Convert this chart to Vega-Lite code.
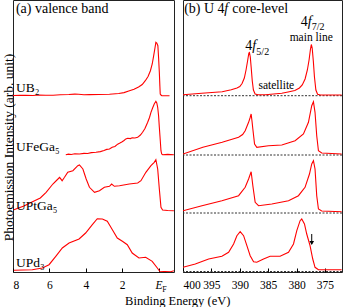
{
 "$schema": "https://vega.github.io/schema/vega-lite/v6.json",
 "padding": {"left": 0, "top": -1, "right": 1, "bottom": 0},
 "background": "white",
 "spacing": 9,
 "bounds": "flush",
 "title": {"text": "Binding Energy (eV)", "orient": "bottom", "anchor": "middle", "font": "'Liberation Serif', 'Times New Roman', serif", "fontSize": 12.5, "fontWeight": "normal", "color": "#000", "offset": 0, "dx": 6},
 "datasets": {
  "valence": [
   {"s":"UB2","E":8.0,"I":176.5},{"s":"UB2","E":7.6,"I":176.6},{"s":"UB2","E":7.3,"I":176.7},{"s":"UB2","E":6.9,"I":176.5},{"s":"UB2","E":6.58,"I":177},{"s":"UB2","E":6.2,"I":176.8},{"s":"UB2","E":5.8,"I":176.8},{"s":"UB2","E":5.4,"I":177.2},{"s":"UB2","E":4.93,"I":177.5},{"s":"UB2","E":4.6,"I":177.9},{"s":"UB2","E":4.4,"I":177.8},{"s":"UB2","E":4.1,"I":177.3},{"s":"UB2","E":3.8,"I":177.4},{"s":"UB2","E":3.29,"I":177.5},{"s":"UB2","E":2.7,"I":177.8},{"s":"UB2","E":2.19,"I":178.5},{"s":"UB2","E":1.9,"I":179.4},{"s":"UB2","E":1.64,"I":181},{"s":"UB2","E":1.35,"I":182.8},{"s":"UB2","E":1.1,"I":185},{"s":"UB2","E":0.9,"I":187.5},{"s":"UB2","E":0.73,"I":191.3},{"s":"UB2","E":0.58,"I":195.5},{"s":"UB2","E":0.45,"I":201.3},{"s":"UB2","E":0.35,"I":208},{"s":"UB2","E":0.27,"I":216.3},{"s":"UB2","E":0.2,"I":224},{"s":"UB2","E":0.15,"I":229.7},{"s":"UB2","E":0.1,"I":229},{"s":"UB2","E":0.04,"I":226.3},{"s":"UB2","E":0.0,"I":214},{"s":"UB2","E":-0.04,"I":199.7},{"s":"UB2","E":-0.07,"I":186},{"s":"UB2","E":-0.09,"I":178},{"s":"UB2","E":-0.13,"I":177},{"s":"UB2","E":-0.18,"I":176.3},{"s":"UB2","E":-0.6,"I":176.3},
   {"s":"UFeGa5","E":5.1,"I":117.3},{"s":"UFeGa5","E":4.95,"I":117.9},{"s":"UFeGa5","E":4.8,"I":117.5},{"s":"UFeGa5","E":4.6,"I":118.2},{"s":"UFeGa5","E":4.35,"I":118},{"s":"UFeGa5","E":4.1,"I":118.6},{"s":"UFeGa5","E":3.9,"I":118.5},{"s":"UFeGa5","E":3.7,"I":119.4},{"s":"UFeGa5","E":3.44,"I":119.7},{"s":"UFeGa5","E":3.2,"I":120.4},{"s":"UFeGa5","E":3.0,"I":121.5},{"s":"UFeGa5","E":2.85,"I":122.6},{"s":"UFeGa5","E":2.7,"I":123},{"s":"UFeGa5","E":2.55,"I":124.8},{"s":"UFeGa5","E":2.4,"I":125.5},{"s":"UFeGa5","E":2.25,"I":127.8},{"s":"UFeGa5","E":2.15,"I":128.7},{"s":"UFeGa5","E":2.0,"I":130.2},{"s":"UFeGa5","E":1.9,"I":131.5},{"s":"UFeGa5","E":1.8,"I":133.1},{"s":"UFeGa5","E":1.7,"I":133.7},{"s":"UFeGa5","E":1.55,"I":133.4},{"s":"UFeGa5","E":1.45,"I":134.2},{"s":"UFeGa5","E":1.3,"I":134},{"s":"UFeGa5","E":1.15,"I":134.7},{"s":"UFeGa5","E":1.0,"I":137},{"s":"UFeGa5","E":0.88,"I":139.7},{"s":"UFeGa5","E":0.75,"I":143.5},{"s":"UFeGa5","E":0.6,"I":149.7},{"s":"UFeGa5","E":0.5,"I":154.5},{"s":"UFeGa5","E":0.42,"I":159.7},{"s":"UFeGa5","E":0.33,"I":164},{"s":"UFeGa5","E":0.24,"I":168},{"s":"UFeGa5","E":0.15,"I":170.7},{"s":"UFeGa5","E":0.1,"I":169},{"s":"UFeGa5","E":0.05,"I":164.7},{"s":"UFeGa5","E":0.0,"I":156},{"s":"UFeGa5","E":-0.04,"I":144.7},{"s":"UFeGa5","E":-0.09,"I":132},{"s":"UFeGa5","E":-0.13,"I":121.3},{"s":"UFeGa5","E":-0.17,"I":118},{"s":"UFeGa5","E":-0.22,"I":117.3},{"s":"UFeGa5","E":-0.5,"I":117.6},{"s":"UFeGa5","E":-0.84,"I":117.3},
   {"s":"UPtGa5","E":7.95,"I":62.3},{"s":"UPtGa5","E":7.4,"I":66},{"s":"UPtGa5","E":6.9,"I":70.5},{"s":"UPtGa5","E":6.5,"I":74},{"s":"UPtGa5","E":6.18,"I":79.7},{"s":"UPtGa5","E":5.81,"I":88},{"s":"UPtGa5","E":5.53,"I":93},{"s":"UPtGa5","E":5.44,"I":94.7},{"s":"UPtGa5","E":5.3,"I":91.3},{"s":"UPtGa5","E":5.17,"I":94.7},{"s":"UPtGa5","E":4.99,"I":99.7},{"s":"UPtGa5","E":4.71,"I":101.3},{"s":"UPtGa5","E":4.44,"I":106.3},{"s":"UPtGa5","E":4.35,"I":107},{"s":"UPtGa5","E":4.16,"I":103},{"s":"UPtGa5","E":3.98,"I":93},{"s":"UPtGa5","E":3.8,"I":84.7},{"s":"UPtGa5","E":3.52,"I":79.7},{"s":"UPtGa5","E":3.25,"I":81.3},{"s":"UPtGa5","E":2.98,"I":84.7},{"s":"UPtGa5","E":2.7,"I":85.7},{"s":"UPtGa5","E":2.58,"I":88},{"s":"UPtGa5","E":2.43,"I":85.7},{"s":"UPtGa5","E":2.15,"I":86.3},{"s":"UPtGa5","E":1.61,"I":88},{"s":"UPtGa5","E":1.15,"I":89},{"s":"UPtGa5","E":0.97,"I":91.3},{"s":"UPtGa5","E":0.7,"I":99.7},{"s":"UPtGa5","E":0.42,"I":106.3},{"s":"UPtGa5","E":0.24,"I":109.7},{"s":"UPtGa5","E":0.15,"I":112.3},{"s":"UPtGa5","E":0.05,"I":103},{"s":"UPtGa5","E":-0.04,"I":83},{"s":"UPtGa5","E":-0.13,"I":64.7},{"s":"UPtGa5","E":-0.22,"I":62},{"s":"UPtGa5","E":-0.5,"I":61.5},{"s":"UPtGa5","E":-0.84,"I":61.3},
   {"s":"UPd3","E":7.95,"I":1.7},{"s":"UPd3","E":6.94,"I":2.3},{"s":"UPd3","E":6.39,"I":4},{"s":"UPd3","E":6.02,"I":7.3},{"s":"UPd3","E":5.65,"I":15.7},{"s":"UPd3","E":5.29,"I":24},{"s":"UPd3","E":4.92,"I":29},{"s":"UPd3","E":4.37,"I":33},{"s":"UPd3","E":4.01,"I":39},{"s":"UPd3","E":3.64,"I":47.3},{"s":"UPd3","E":3.37,"I":53.3},{"s":"UPd3","E":3.09,"I":53},{"s":"UPd3","E":2.82,"I":50.7},{"s":"UPd3","E":2.54,"I":42.3},{"s":"UPd3","E":2.27,"I":34},{"s":"UPd3","E":1.99,"I":30.7},{"s":"UPd3","E":1.72,"I":27.3},{"s":"UPd3","E":1.45,"I":19},{"s":"UPd3","E":1.08,"I":14},{"s":"UPd3","E":0.71,"I":14.7},{"s":"UPd3","E":0.35,"I":10.7},{"s":"UPd3","E":0.07,"I":4},{"s":"UPd3","E":-0.06,"I":0.7},{"s":"UPd3","E":-0.66,"I":0.3},{"s":"UPd3","E":-0.84,"I":1.3}
  ],
  "core": [
   {"s":"UB2","E":400,"I":177.3},{"s":"UB2","E":396.7,"I":178.7},{"s":"UB2","E":393.1,"I":180.3},{"s":"UB2","E":391.5,"I":182.2},{"s":"UB2","E":390.5,"I":184},{"s":"UB2","E":390.0,"I":185.5},{"s":"UB2","E":389.6,"I":188.5},{"s":"UB2","E":389.2,"I":194},{"s":"UB2","E":388.9,"I":202},{"s":"UB2","E":388.6,"I":212},{"s":"UB2","E":388.4,"I":219},{"s":"UB2","E":388.3,"I":219.5},{"s":"UB2","E":388.15,"I":215},{"s":"UB2","E":388.0,"I":205},{"s":"UB2","E":387.8,"I":191},{"s":"UB2","E":387.6,"I":182},{"s":"UB2","E":387.3,"I":178},{"s":"UB2","E":386.8,"I":177.2},{"s":"UB2","E":385.5,"I":177.3},{"s":"UB2","E":382.6,"I":178.7},{"s":"UB2","E":381.5,"I":180},{"s":"UB2","E":380.3,"I":181.5},{"s":"UB2","E":379.5,"I":184},{"s":"UB2","E":379.0,"I":187},{"s":"UB2","E":378.5,"I":193},{"s":"UB2","E":378.1,"I":202},{"s":"UB2","E":377.8,"I":212},{"s":"UB2","E":377.55,"I":223},{"s":"UB2","E":377.4,"I":227.5},{"s":"UB2","E":377.25,"I":224},{"s":"UB2","E":377.05,"I":211},{"s":"UB2","E":376.85,"I":195},{"s":"UB2","E":376.6,"I":182},{"s":"UB2","E":376.3,"I":177.7},{"s":"UB2","E":375.8,"I":177},{"s":"UB2","E":372.06,"I":177},
   {"s":"UFeGa5","E":400,"I":118},{"s":"UFeGa5","E":396.5,"I":124.7},{"s":"UFeGa5","E":393.1,"I":129.7},{"s":"UFeGa5","E":390.21,"I":134.7},{"s":"UFeGa5","E":389.5,"I":137.5},{"s":"UFeGa5","E":389.05,"I":141.3},{"s":"UFeGa5","E":388.45,"I":149.7},{"s":"UFeGa5","E":388.2,"I":154},{"s":"UFeGa5","E":388.0,"I":158},{"s":"UFeGa5","E":387.85,"I":151},{"s":"UFeGa5","E":387.7,"I":143},{"s":"UFeGa5","E":387.4,"I":128},{"s":"UFeGa5","E":387.0,"I":124.7},{"s":"UFeGa5","E":384.94,"I":126.3},{"s":"UFeGa5","E":382.6,"I":127},{"s":"UFeGa5","E":380.26,"I":131.3},{"s":"UFeGa5","E":378.79,"I":138},{"s":"UFeGa5","E":377.91,"I":149.7},{"s":"UFeGa5","E":377.33,"I":166.3},{"s":"UFeGa5","E":377.03,"I":170.3},{"s":"UFeGa5","E":376.75,"I":159.7},{"s":"UFeGa5","E":376.45,"I":136.3},{"s":"UFeGa5","E":376.15,"I":121.3},{"s":"UFeGa5","E":375.57,"I":119},{"s":"UFeGa5","E":372.06,"I":118},
   {"s":"UPtGa5","E":400,"I":61.3},{"s":"UPtGa5","E":396.66,"I":66.3},{"s":"UPtGa5","E":393.15,"I":71.3},{"s":"UPtGa5","E":390.21,"I":76.3},{"s":"UPtGa5","E":389.05,"I":84.7},{"s":"UPtGa5","E":388.45,"I":93},{"s":"UPtGa5","E":388.0,"I":100.3},{"s":"UPtGa5","E":387.7,"I":86.3},{"s":"UPtGa5","E":387.29,"I":69.7},{"s":"UPtGa5","E":386.7,"I":66.3},{"s":"UPtGa5","E":384.36,"I":68},{"s":"UPtGa5","E":381.42,"I":71.3},{"s":"UPtGa5","E":379.67,"I":76.3},{"s":"UPtGa5","E":378.51,"I":84.7},{"s":"UPtGa5","E":377.73,"I":98},{"s":"UPtGa5","E":377.33,"I":108},{"s":"UPtGa5","E":377.03,"I":111.3},{"s":"UPtGa5","E":376.75,"I":103},{"s":"UPtGa5","E":376.45,"I":76.3},{"s":"UPtGa5","E":376.15,"I":63},{"s":"UPtGa5","E":375.57,"I":61},{"s":"UPtGa5","E":372.06,"I":60.3},
   {"s":"UPd3","E":400,"I":4.7},{"s":"UPd3","E":397.84,"I":8},{"s":"UPd3","E":395.48,"I":13},{"s":"UPd3","E":393.15,"I":15.7},{"s":"UPd3","E":391.97,"I":19.7},{"s":"UPd3","E":391.09,"I":28},{"s":"UPd3","E":390.51,"I":36.3},{"s":"UPd3","E":389.93,"I":40.3},{"s":"UPd3","E":389.33,"I":36.3},{"s":"UPd3","E":388.75,"I":26.3},{"s":"UPd3","E":388.17,"I":16.3},{"s":"UPd3","E":387.57,"I":10.3},{"s":"UPd3","E":387.0,"I":9.7},{"s":"UPd3","E":385.82,"I":13},{"s":"UPd3","E":384.66,"I":15.7},{"s":"UPd3","E":382.9,"I":15.7},{"s":"UPd3","E":381.42,"I":19.7},{"s":"UPd3","E":380.54,"I":28},{"s":"UPd3","E":379.96,"I":41.3},{"s":"UPd3","E":379.38,"I":51.3},{"s":"UPd3","E":379.09,"I":53},{"s":"UPd3","E":378.61,"I":48},{"s":"UPd3","E":378.21,"I":38},{"s":"UPd3","E":377.63,"I":26.3},{"s":"UPd3","E":377.15,"I":13},{"s":"UPd3","E":376.75,"I":4.7},{"s":"UPd3","E":376.15,"I":2.3},{"s":"UPd3","E":372.06,"I":2.3}
  ]
 },
 "hconcat": [
  {
   "width": 161, "height": 272,
   "encoding": {
    "x": {"field": "E", "type": "quantitative", "scale": {"domain": [-0.846, 8], "reverse": true, "nice": false, "zero": false},
          "axis": {"title": null, "values": [8, 6, 4, 2, 0], "labelExpr": "datum.value === 0 ? 'E' : datum.label",
                   "labelFontStyle": {"condition": {"test": "datum.value === 0", "value": "italic"}, "value": "normal"}}},
    "y": {"field": "I", "type": "quantitative", "scale": {"domain": [0, 272], "nice": false, "zero": false},
          "axis": {"title": "Photoemission Intensity (arb. unit)", "labels": false, "ticks": false, "domain": false, "grid": false, "titleFont": "'Liberation Serif', 'Times New Roman', serif", "titleFontSize": 13.5, "titleFontWeight": "normal", "titleColor": "#000", "titlePadding": -2, "titleY": 147}}
   },
   "layer": [
    {"data": {"name": "valence"}, "mark": {"type": "line", "color": "#ff0000", "strokeWidth": 1.1, "clip": true},
     "encoding": {"detail": {"field": "s"}}},
    {"data": {"values": [{"E": 7.84, "I": 259.5, "t": "(a) valence band"}]},
     "mark": {"type": "text", "align": "left", "baseline": "alphabetic", "font": "'Liberation Serif', 'Times New Roman', serif", "fontSize": 14, "color": "#000"},
     "encoding": {"text": {"field": "t"}}},
    {"data": {"values": [{"E": 7.84, "I": 179.7, "t": "UB₂"}, {"E": 7.84, "I": 120.7, "t": "UFeGa₅"}, {"E": 7.84, "I": 62.5, "t": "UPtGa₅"}, {"E": 7.84, "I": 5.5, "t": "UPd₃"}]},
     "mark": {"type": "text", "align": "left", "baseline": "alphabetic", "font": "'Liberation Serif', 'Times New Roman', serif", "fontSize": 13.5, "color": "#000"},
     "encoding": {"text": {"field": "t"}}},
    {"data": {"values": [{"E": -0.2, "I": -20, "t": "F"}]},
     "mark": {"type": "text", "align": "left", "baseline": "alphabetic", "font": "'Liberation Serif', 'Times New Roman', serif", "fontSize": 8, "color": "#000"},
     "encoding": {"text": {"field": "t"}}}
   ]
  },
  {
   "width": 159, "height": 272,
   "encoding": {
    "x": {"field": "E", "type": "quantitative", "scale": {"domain": [372, 400], "reverse": true, "nice": false, "zero": false},
          "axis": {"title": null, "values": [400, 395, 390, 385, 380, 375], "format": "d"}},
    "y": {"field": "I", "type": "quantitative", "scale": {"domain": [0, 272], "nice": false, "zero": false}, "axis": null}
   },
   "layer": [
    {"data": {"values": [{"I": 176.3}, {"I": 117}, {"I": 59}, {"I": 0.5}]},
     "mark": {"type": "rule", "color": "#333", "strokeWidth": 1, "strokeDash": [2, 1.5]},
     "encoding": {"x": null}},
    {"data": {"name": "core"}, "mark": {"type": "line", "color": "#ff0000", "strokeWidth": 1.1, "clip": true},
     "encoding": {"detail": {"field": "s"}}},
    {"data": {"values": [{"E": 377.33, "I": 38, "I2": 28}]},
     "mark": {"type": "rule", "color": "#000", "strokeWidth": 1},
     "encoding": {"y2": {"field": "I2"}}},
    {"data": {"values": [{"E": 377.33, "I": 29}]},
     "mark": {"type": "point", "shape": "triangle-down", "filled": true, "size": 22, "color": "#000", "opacity": 1},
     "encoding": {}},
    {"data": {"values": [{"E": 399.8, "I": 259.5, "t": "(b) U 4"}, {"E": 391.34, "I": 259.5, "t": "core-level"}, {"E": 389.02, "I": 222, "t": "4"}, {"E": 379.26, "I": 246.5, "t": "4"}]},
     "mark": {"type": "text", "align": "left", "baseline": "alphabetic", "font": "'Liberation Serif', 'Times New Roman', serif", "fontSize": 14, "color": "#000"},
     "encoding": {"text": {"field": "t"}}},
    {"data": {"values": [{"E": 392.72, "I": 259.5, "t": "f"}, {"E": 387.79, "I": 222, "t": "f"}, {"E": 378.03, "I": 246.5, "t": "f"}]},
     "mark": {"type": "text", "align": "left", "baseline": "alphabetic", "font": "'Liberation Serif', 'Times New Roman', serif", "fontSize": 14, "fontStyle": "italic", "color": "#000"},
     "encoding": {"text": {"field": "t"}}},
    {"data": {"values": [{"E": 387.08, "I": 217, "t": "5/2"}, {"E": 377.33, "I": 242, "t": "7/2"}]},
     "mark": {"type": "text", "align": "left", "baseline": "alphabetic", "font": "'Liberation Serif', 'Times New Roman', serif", "fontSize": 10, "color": "#000"},
     "encoding": {"text": {"field": "t"}}},
    {"data": {"values": [{"E": 377.42, "I": 231.3, "t": "main line"}, {"E": 383.57, "I": 183, "t": "satellite"}]},
     "mark": {"type": "text", "align": "center", "baseline": "alphabetic", "font": "'Liberation Serif', 'Times New Roman', serif", "fontSize": 11.5, "color": "#000"},
     "encoding": {"text": {"field": "t"}}}
   ]
  }
 ],
 "config": {
  "view": {"stroke": "#222", "strokeWidth": 1},
  "font": "'Liberation Serif', 'Times New Roman', serif",
  "axis": {"labelFont": "'Liberation Serif', 'Times New Roman', serif", "labelFontSize": 11.5, "labelColor": "#000", "tickColor": "#000", "tickSize": -4, "tickWidth": 1, "labelPadding": 11, "domain": false, "grid": false}
 }
}
